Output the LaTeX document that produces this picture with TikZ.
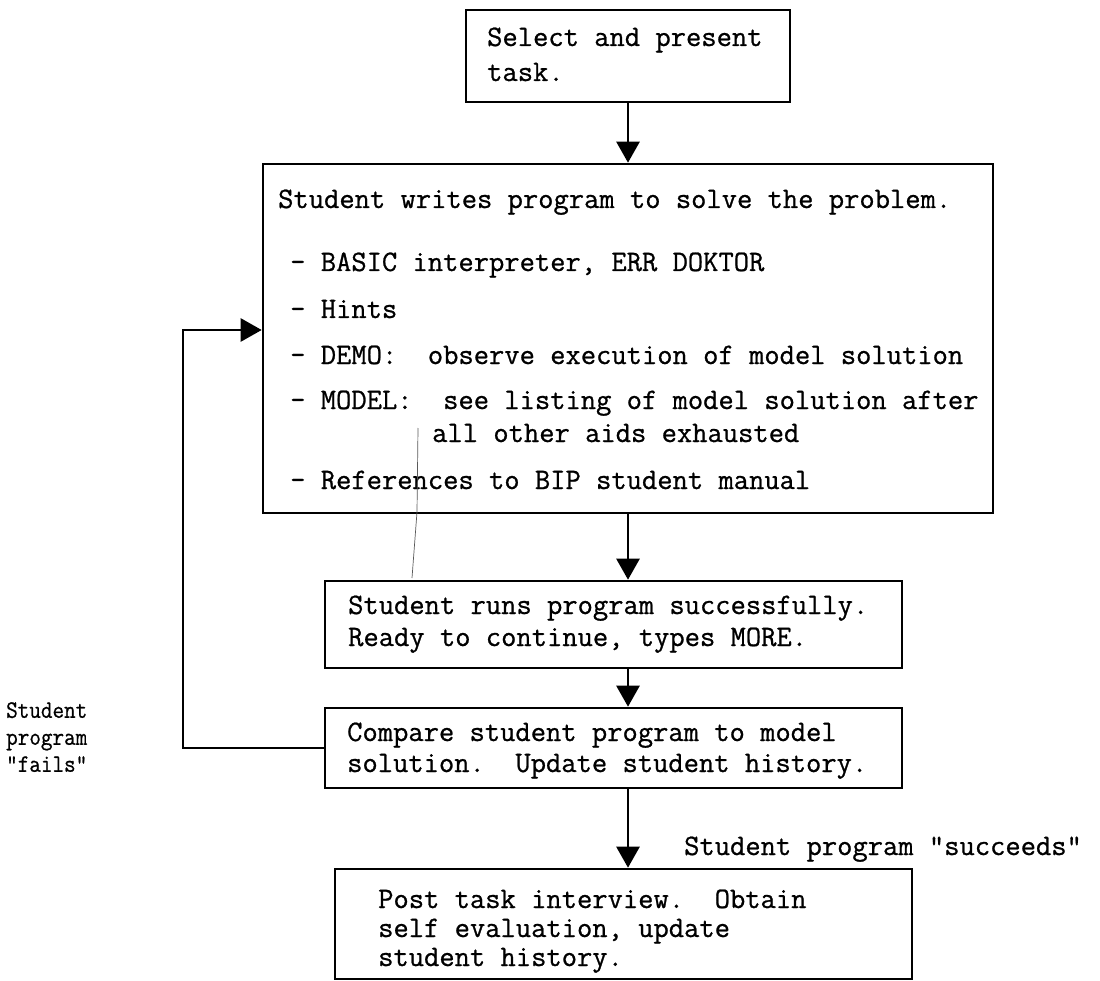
\documentclass[tikz,border=0pt]{standalone}
\usepackage{fontspec}
\usetikzlibrary{arrows.meta}
\newfontfamily\twfont{Latin Modern Mono}[FakeBold=0.8]
\newcommand\tw{\twfont\fontsize{29.7}{31}\selectfont}
\newcommand\twl{\twfont\fontsize{25}{27}\selectfont}
\tikzset{
  box/.style={draw, line width=2.6pt, rectangle, inner sep=0pt},
  conn/.style={line width=2.6pt, -{Triangle[length=21pt,width=23pt]}},
  txt/.style={anchor=base west, inner sep=0pt, font=\tw},
  narrow/.style={anchor=north west, inner sep=0pt, align=left, font=\twl, xscale=0.9, transform shape},
  stray/.style={line width=0.7pt, black!65},
}
\begin{document}
\begin{tikzpicture}[x=1pt,y=-1pt]
\useasboundingbox (0,0) rectangle (1100,981);
% boxes
\node[box, minimum width=324pt, minimum height=92pt]  (b1) at (628,56) {};
\node[box, minimum width=730pt, minimum height=349pt] (b2) at (628,338.5) {};
\node[box, minimum width=577pt, minimum height=87pt]  (b3) at (613.5,624.5) {};
\node[box, minimum width=577pt, minimum height=80pt]  (b4) at (613.5,748) {};
\node[box, minimum width=577pt, minimum height=110pt] (b5) at (623.5,924) {};
% box 1 text
\node[txt] (t1a) at (487,46) {Select and present};
\node[txt] (t1b) at (487,81) {task.};
% box 2 text
\node[txt] (t2a) at (278,208) {Student writes program to solve the problem.};
\node[txt] (t2b) at (290,271) {- BASIC interpreter, ERR DOKTOR};
\node[txt] (t2c) at (290,318) {- Hints};
\node[txt] (t2d) at (290,364) {- DEMO:\ \ observe execution of model solution};
\node[txt] (t2e) at (290,409) {- MODEL:\ \ see listing of model solution after};
\node[txt] (t2f) at (432,442) {all other aids exhausted};
\node[txt] (t2g) at (290,489) {- References to BIP student manual};
% box 3 text
\node[txt] (t3a) at (348,614) {Student runs program successfully.};
\node[txt] (t3b) at (348,646) {Ready to continue, types MORE.};
% box 4 text
\node[txt] (t4a) at (347,741) {Compare student program to model};
\node[txt] (t4b) at (347,772) {solution.\ \ Update student history.};
% box 5 text
\node[txt] (t5a) at (378,908) {Post task interview.\ \ Obtain};
\node[txt] (t5b) at (378,937) {self evaluation, update};
\node[txt] (t5c) at (378,966) {student history.};
% labels
\node[txt] (ls) at (684,855) {Student program "succeeds"};
\node[narrow] (lf) at (6,702) {Student\\program\\"fails"};
% connectors
\draw[conn] (b1.south) -- (b2.north);
\draw[conn] (b2.south) -- (b2.south |- b3.north);
\draw[conn] (b2.south |- b3.south) -- (b2.south |- b4.north);
\draw[conn] (b2.south |- b4.south) -- (b2.south |- b5.north);
\coordinate (lc) at (183,330);
\draw[conn] (b4.west) -| (lc) -- (lc -| b2.west);
% faint stray pencil line
\coordinate (s1) at (418,428);
\coordinate (s2) at (412,578);
\draw[stray] (s1) -- (417,512) -- (s2);
\end{tikzpicture}
\end{document}
